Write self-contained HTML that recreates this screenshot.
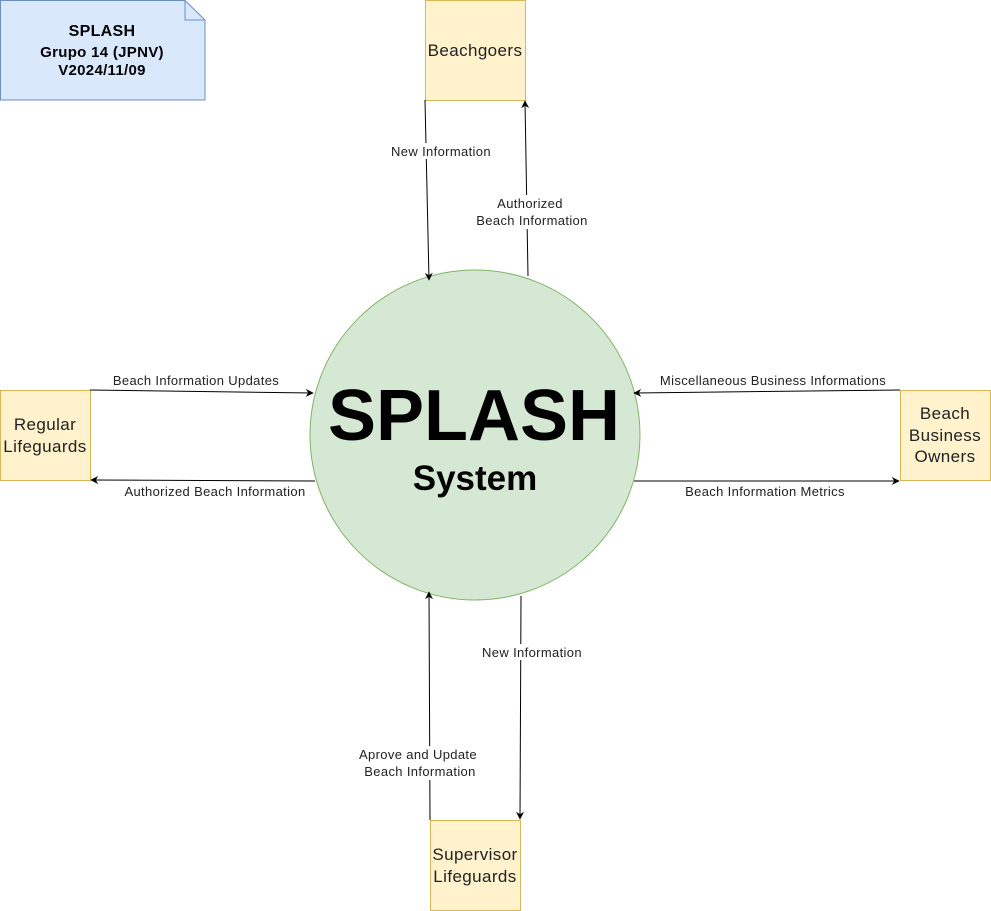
<!DOCTYPE html>
<html><head><meta charset="utf-8"><style>
html,body{margin:0;padding:0;background:#fff;}
svg{display:block;font-family:"Liberation Sans",Arial,sans-serif;}
</style></head><body>
<svg width="991" height="911" viewBox="0 0 991 911" xmlns="http://www.w3.org/2000/svg">
<defs>
<marker id="a" viewBox="0 0 10 10" refX="9" refY="5" markerWidth="8" markerHeight="8" orient="auto" markerUnits="userSpaceOnUse"><path d="M0,0 L10,5 L0,10 L3,5 Z" fill="#000"/></marker>
</defs>
<path d="M0.5,0.5 H185 L205,20 V100 H0.5 Z" fill="#dae8fc" stroke="#6c8ebf"/>
<path d="M185,0.5 V20 H205" fill="none" stroke="#6c8ebf"/>
<g font-weight="bold" font-size="15" text-anchor="middle" fill="#000" letter-spacing="0.3">
<text x="102" y="36" font-size="16">SPLASH</text>
<text x="102" y="57">Grupo 14 (JPNV)</text>
<text x="102" y="75">V2024/11/09</text>
</g>
<circle cx="475" cy="435" r="165" fill="#d5e8d4" stroke="#82b366"/>
<text x="474" y="440" text-anchor="middle" font-size="72" font-weight="bold">SPLASH</text>
<text x="475" y="490" text-anchor="middle" font-size="35" font-weight="bold">System</text>
<g fill="#fff2cc" stroke="#d6b656">
<rect x="425.5" y="0.5" width="100" height="100"/>
<rect x="0.5" y="390.5" width="90" height="90"/>
<rect x="900.5" y="390.5" width="90" height="90"/>
<rect x="430.5" y="820.5" width="90" height="90"/>
</g>
<g font-size="17" text-anchor="middle" fill="#222" letter-spacing="0.4">
<text x="475" y="56">Beachgoers</text>
<text x="45" y="430">Regular</text><text x="45" y="452">Lifeguards</text>
<text x="945" y="419">Beach</text><text x="945" y="441">Business</text><text x="945" y="462">Owners</text>
<text x="475" y="860">Supervisor</text><text x="475" y="882">Lifeguards</text>
</g>
<g stroke="#000" stroke-width="1" fill="none">
<path d="M425,100 L429,280" marker-end="url(#a)"/>
<path d="M528,276 L525,101" marker-end="url(#a)"/>
<path d="M90,390 L313,393" marker-end="url(#a)"/>
<path d="M315,481 L91,480" marker-end="url(#a)"/>
<path d="M900,390 L634,393" marker-end="url(#a)"/>
<path d="M634,481 L899,481" marker-end="url(#a)"/>
<path d="M430,820 L429,592" marker-end="url(#a)"/>
<path d="M521,596 L520,819" marker-end="url(#a)"/>
</g>
<g fill="#fff">
<rect x="386" y="143" width="110" height="16"/>
<rect x="470" y="195" width="124" height="34"/>
<rect x="476" y="644" width="112" height="16"/>
<rect x="354" y="746" width="128" height="34"/>
</g>
<g font-size="13" text-anchor="middle" fill="#222" letter-spacing="0.35">
<text x="441" y="156">New Information</text>
<text x="530" y="208">Authorized</text><text x="532" y="225">Beach Information</text>
<text x="196" y="385">Beach Information Updates</text>
<text x="215" y="496">Authorized Beach Information</text>
<text x="773" y="385">Miscellaneous Business Informations</text>
<text x="765" y="496">Beach Information Metrics</text>
<text x="532" y="657">New Information</text>
<text x="418" y="759">Aprove and Update</text><text x="420" y="776">Beach Information</text>
</g>
</svg>
</body></html>
